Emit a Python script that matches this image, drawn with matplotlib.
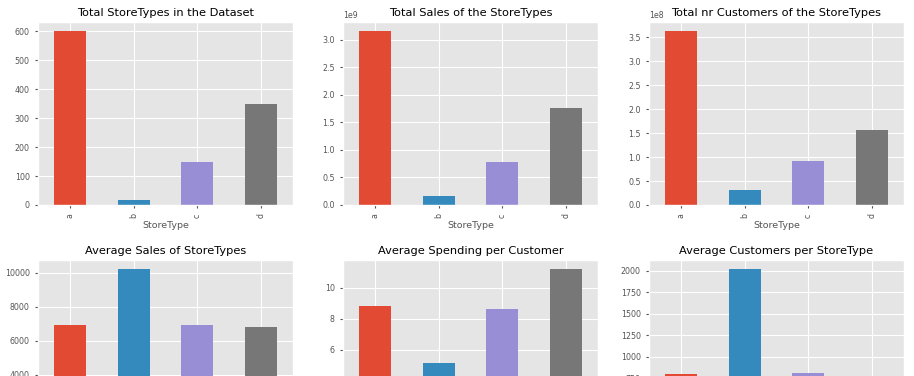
import matplotlib
matplotlib.use('Agg')
import matplotlib.pyplot as plt

plt.style.use('ggplot')
plt.rcParams['font.size'] = 5.7
plt.rcParams['xtick.major.size'] = 2.5
plt.rcParams['ytick.major.size'] = 2.5

store_types = ['a', 'b', 'c', 'd']
colors = ['#E24A33', '#348ABD', '#988ED5', '#777777']

store_counts = [602, 17, 148, 348]
total_sales = [3.1653e9, 0.1592e9, 0.7832e9, 1.7654e9]
total_customers = [3.6354e8, 0.3147e8, 0.9213e8, 1.5690e8]
avg_sales = [6925, 10231, 6933, 6822]
avg_spending = [8.84, 5.17, 8.66, 11.24]
avg_customers = [795, 2022, 815, 606]

panels = [
    ('Total StoreTypes in the Dataset', store_counts),
    ('Total Sales of the StoreTypes', total_sales),
    ('Total nr Customers of the StoreTypes', total_customers),
    ('Average Sales of StoreTypes', avg_sales),
    ('Average Spending per Customer', avg_spending),
    ('Average Customers per StoreType', avg_customers),
]

W, H = 914, 376
fig = plt.figure(figsize=(W / 100, H / 100), dpi=100)

lefts = [38, 343, 649]
bottoms = [205, 443]  # pixel y of axes bottom, from top
aw, ah = 255, 183

for i, (title, vals) in enumerate(panels):
    r, c = divmod(i, 3)
    ax = fig.add_axes([lefts[c] / W, (H - bottoms[r]) / H, aw / W, ah / H])
    x = range(len(store_types))
    ax.bar(x, vals, width=0.5, color=colors)
    ax.set_xlim(-0.5, 3.5)
    ax.set_xticks(list(x))
    ax.set_xticklabels(store_types, rotation=90)
    ax.set_xlabel('StoreType', labelpad=2)
    ax.set_title(title, pad=4)

fig.savefig('out.png', dpi=100)
